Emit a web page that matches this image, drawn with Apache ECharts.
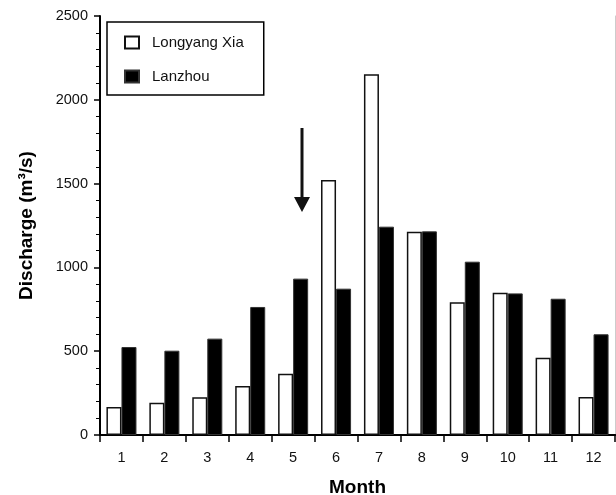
<!DOCTYPE html>
<html><head><meta charset="utf-8">
<script src="https://cdn.jsdelivr.net/npm/echarts@6/dist/echarts.min.js"></script>
<style>html,body{margin:0;padding:0;background:#fff}#c{width:616px;height:495px}</style>
</head><body><div id="c"></div>
<script>
const months = ['1','2','3','4','5','6','7','8','9','10','11','12'];
const longyangXia = [167, 193, 225, 292, 366, 1521, 2152, 1213, 792, 849, 461, 227];
const lanzhou = [525, 503, 575, 764, 933, 873, 1243, 1215, 1034, 845, 813, 601];
const yTicks = [0, 500, 1000, 1500, 2000, 2500];

const font = '"Liberation Sans", Arial, sans-serif';
const chart = echarts.init(document.getElementById('c'));
chart.setOption({
  animation: false,
  textStyle: {fontFamily: font},
  grid: {left: 100, top: 16, right: 1, bottom: 60, containLabel: false, outerBoundsMode: 'none'},
  legend: {
    orient: 'vertical', left: 107, top: 22,
    padding: [13, 20, 11, 17],
    borderColor: '#000', borderWidth: 1.5,
    itemWidth: 14, itemHeight: 12, itemGap: 19,
    icon: 'rect',
    textStyle: {fontFamily: font, fontSize: 15, color: '#111', padding: [0, 0, 0, 8]},
    data: ['Longyang Xia', 'Lanzhou']
  },
  xAxis: [{
    type: 'category', data: months,
    name: 'Month', nameLocation: 'middle', nameGap: 43,
    nameTextStyle: {fontFamily: font, fontSize: 19, fontWeight: 'bold', color: '#000'},
    axisLine: {lineStyle: {color: '#000', width: 2}},
    axisTick: {show: true, length: 7, lineStyle: {color: '#000', width: 1.5}},
    axisLabel: {fontFamily: font, fontSize: 14.5, color: '#111', margin: 15}
  }, {
    type: 'category', data: months, position: 'top',
    axisLine: {lineStyle: {color: '#000', width: 2}},
    axisTick: {show: false}, axisLabel: {show: false}
  }],
  yAxis: [{
    type: 'value', min: yTicks[0], max: yTicks[yTicks.length - 1], interval: 500,
    name: 'Discharge (m³/s)', nameLocation: 'middle', nameGap: 64, nameRotate: 90,
    nameTextStyle: {fontFamily: font, fontSize: 19, fontWeight: 'bold', color: '#000'},
    axisLine: {show: true, lineStyle: {color: '#000', width: 2}},
    axisTick: {show: true, length: 6, lineStyle: {color: '#000', width: 1.5}},
    minorTick: {show: true, splitNumber: 5, length: 4, lineStyle: {color: '#000', width: 1}},
    splitLine: {show: false},
    axisLabel: {fontFamily: font, fontSize: 14.5, color: '#111', margin: 12, formatter: v => String(v)}
  }, {
    type: 'value', min: 0, max: 2500, position: 'right',
    axisLine: {show: true, lineStyle: {color: '#ccc', width: 1}},
    axisTick: {show: false}, axisLabel: {show: false}, splitLine: {show: false}
  }],
  series: [{
    name: 'Longyang Xia', type: 'bar', data: longyangXia,
    barGap: '0%', barCategoryGap: '30%',
    itemStyle: {color: '#fff', borderColor: '#111', borderWidth: 1.5}
  }, {
    name: 'Lanzhou', type: 'bar', data: lanzhou,
    itemStyle: {color: '#000', borderColor: '#333', borderWidth: 1}
  }],
  graphic: [{
    type: 'group', children: [
      {type: 'line', shape: {x1: 302, y1: 128, x2: 302, y2: 199}, style: {stroke: '#111', lineWidth: 3}},
      {type: 'polygon', shape: {points: [[294, 197], [310, 197], [302, 212]]}, style: {fill: '#111'}}
    ]
  }]
});
</script></body></html>
